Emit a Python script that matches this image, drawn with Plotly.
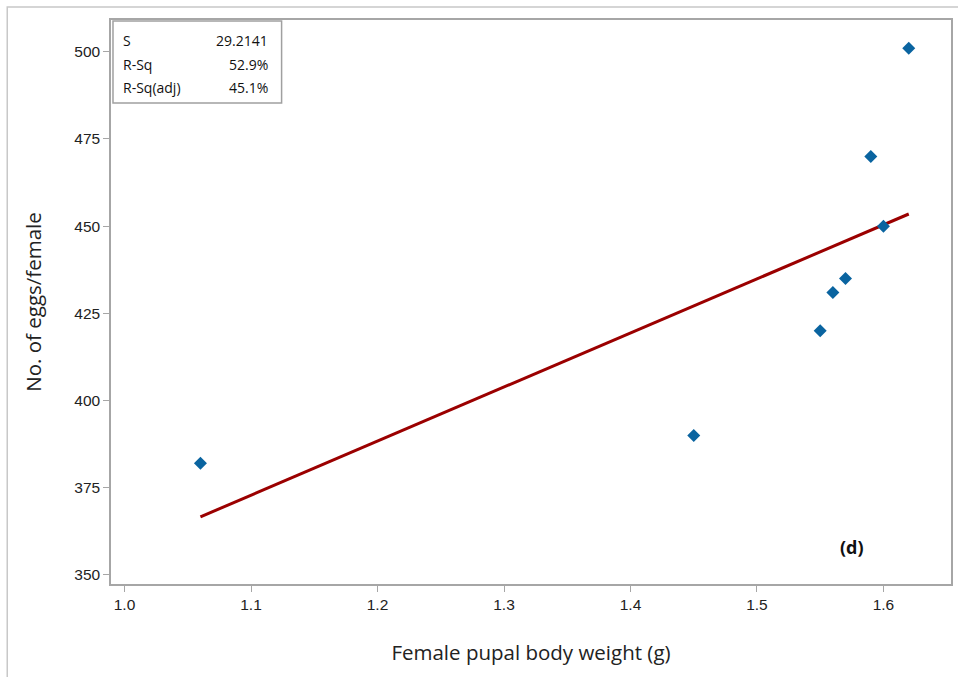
import numpy as np
import plotly.graph_objects as go

# Data
weight = [1.06, 1.45, 1.55, 1.56, 1.57, 1.59, 1.60, 1.62]
eggs = [382, 390, 420, 431, 435, 470, 450, 501]

stat_labels = ["S", "R-Sq", "R-Sq(adj)"]
stat_values = ["29.2141", "52.9%", "45.1%"]

x_ticks = [1.0, 1.1, 1.2, 1.3, 1.4, 1.5, 1.6]
y_ticks = [350, 375, 400, 425, 450, 475, 500]

# Fitted regression line
slope, intercept = np.polyfit(weight, eggs, 1)
fit_x = np.linspace(min(weight), max(weight), 100)
fit_y = slope * fit_x + intercept

W, H = 958, 677
ml, mr, mt, mb = 111, 5, 20, 93
pw, ph = W - ml - mr, H - mt - mb


def px(x):
    return (x - ml) / pw


def py(y):
    return 1 - (y - mt) / ph


fig = go.Figure()
fig.add_trace(go.Scatter(x=fit_x, y=fit_y, mode="lines",
                         line=dict(color="#9B0000", width=3),
                         showlegend=False, hoverinfo="skip"))
fig.add_trace(go.Scatter(x=weight, y=eggs, mode="markers",
                         marker=dict(symbol="diamond", size=10, color="#0A64A0"),
                         showlegend=False))

axis_common = dict(showline=True, linecolor="#A6A6A6", linewidth=1.5, mirror=True,
                   ticks="outside", ticklen=6, tickcolor="#A6A6A6", tickwidth=1,
                   showgrid=False, zeroline=False,
                   tickfont=dict(family="Liberation Sans, Arial", size=15.5, color="#222"))

title_font = dict(family="Open Sans, Noto Sans", size=20.5, color="#222")

fig.update_xaxes(range=[0.9893, 1.6534], tickvals=x_ticks, tickformat=".1f",
                 title=dict(text="Female pupal body weight (g)", standoff=33, font=title_font),
                 **axis_common)
fig.update_yaxes(range=[347.4, 509.1], tickvals=y_ticks,
                 title=dict(text="No. of eggs/female", standoff=27, font=title_font),
                 **axis_common)

shapes = [
    # outer frame
    dict(type="rect", xref="paper", yref="paper", x0=px(7), x1=px(1200), y0=py(7), y1=py(900),
         line=dict(color="#C8C8C8", width=1.5), layer="below"),
    # stats box
    dict(type="rect", xref="paper", yref="paper", x0=px(113), x1=px(282), y0=py(21), y1=py(103),
         line=dict(color="#A0A0A0", width=1.5), fillcolor="white"),
]

annotations = []
stat_font = dict(family="Open Sans, Noto Sans", size=14, color="#111")
for i, (lab, val) in enumerate(zip(stat_labels, stat_values)):
    yy = py(40 + 24 * i)
    annotations.append(dict(xref="paper", yref="paper", x=px(121), y=yy, text=lab,
                            showarrow=False, xanchor="left", yanchor="middle", font=stat_font))
    annotations.append(dict(xref="paper", yref="paper", x=px(270), y=yy, text=val,
                            showarrow=False, xanchor="right", yanchor="middle", font=stat_font))

annotations.append(dict(x=1.5748, y=358.0, text="<b>(d)</b>", showarrow=False,
                        font=dict(family="Open Sans, Noto Sans", size=18, color="#111")))

fig.update_layout(width=W, height=H, margin=dict(l=ml, r=mr, t=mt, b=mb),
                  paper_bgcolor="white", plot_bgcolor="white",
                  shapes=shapes, annotations=annotations)

fig.write_html("out.html")
